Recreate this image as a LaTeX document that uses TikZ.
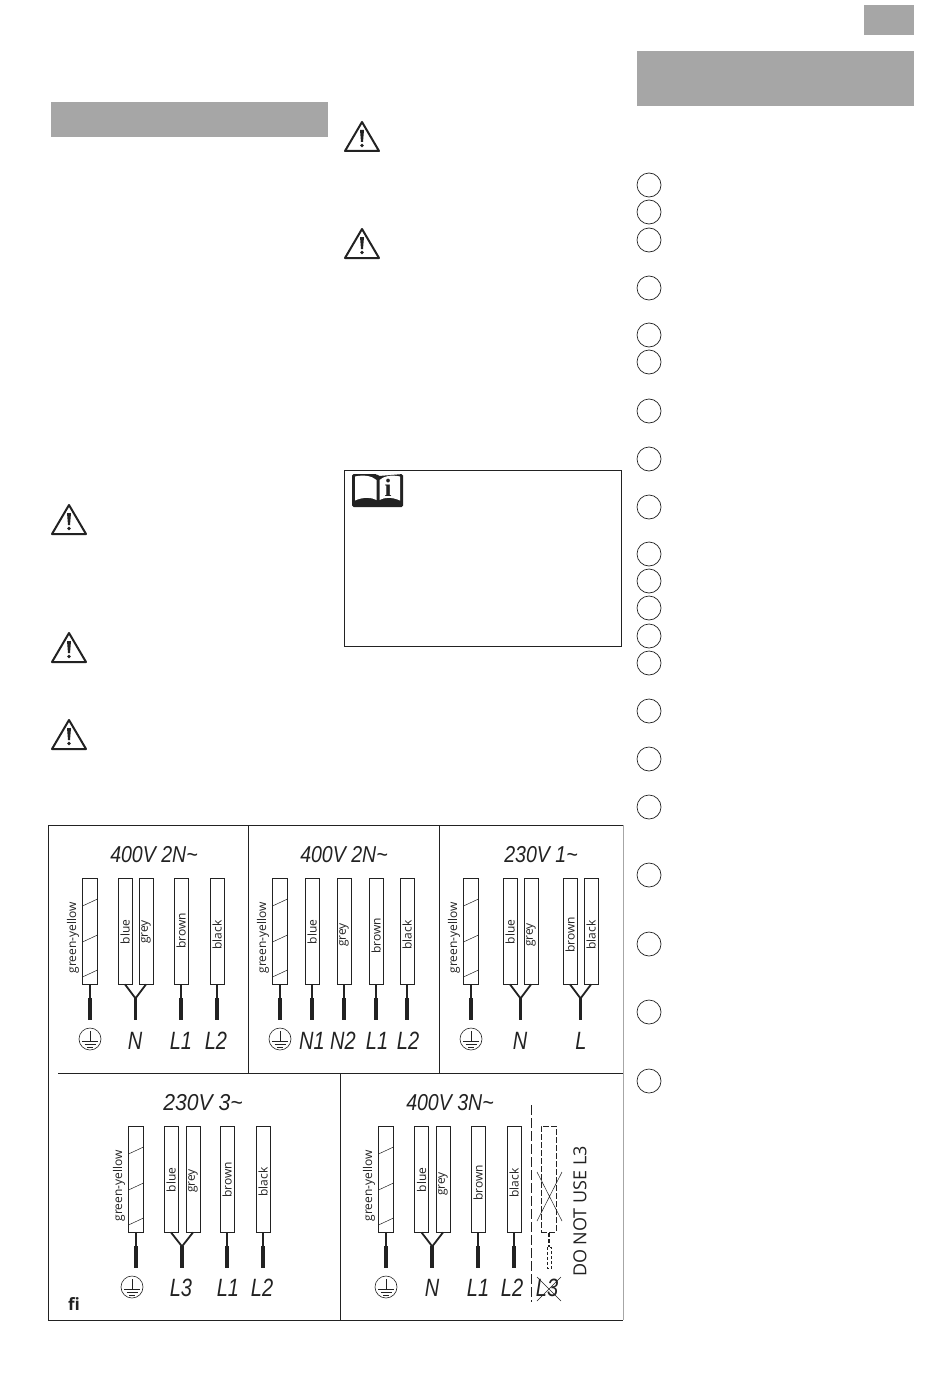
\documentclass[tikz,border=0pt]{standalone}
\usepackage{fontspec}
\setmainfont{Open Sans}
\newfontfamily\arialf{Liberation Sans}
\newfontfamily\serf{Liberation Serif}
\definecolor{ink}{HTML}{222222}
\definecolor{band}{HTML}{A6A6A6}
\tikzset{
  band/.style={fill=band,draw=none},
  frame/.style={draw=ink,line width=.9pt},
  lightframe/.style={draw=black!35,line width=.8pt},
  numring/.style={draw=ink,line width=.7pt,fill=white},
  wirebox/.style={draw=ink,line width=.8pt,rectangle,minimum width=#1,minimum height=106pt,inner sep=0pt},
  wirebox/.default=14pt,
  ghostbox/.style={draw=ink,line width=.8pt,dash pattern=on 6pt off 2pt,rectangle,minimum width=15pt,minimum height=106pt,inner sep=0pt},
  wlabel/.style={rotate=90,font=\fontsize{12}{12}\selectfont,text=ink,inner sep=0pt},
  ttl/.style={font=\arialf\itshape\fontsize{23}{23}\selectfont,xscale=.85,text=ink,inner sep=0pt},
  term/.style={font=\arialf\itshape\fontsize{25}{25}\selectfont,xscale=.8,text=ink,inner sep=0pt},
  thinw/.style={draw=ink,line width=1.5pt},
  thickw/.style={draw=ink,line width=3.6pt},
}
\newcommand{\wirenode}[5]{%
  \node[wirebox] (#1) at (#2,#3+53) {};
  \node[wlabel] (#1-l) at (#2,#3+#5) {#4};
  \path (#1.south) ++(0,14) coordinate (#1-a) ++(0,22) coordinate (#1-b);
}
\newcommand{\single}[1]{%
  \draw[thinw] (#1.south) -- (#1-a);
  \draw[thickw] (#1-a) -- (#1-b);
}
\newcommand{\pairjoin}[3]{%
  \coordinate (#3-m) at ($(#1.south)!.5!(#2.south)+(0,14)$);
  \coordinate (#3-e) at ($(#1.south)!.5!(#2.south)+(0,36)$);
  \draw[draw=ink,line width=1.8pt] (#1.south) -- (#3-m) -- (#2.south);
  \draw[thickw] (#3-m) -- (#3-e);
}
\newcommand{\earthwire}[3]{%
  \node[wirebox=15pt] (#1) at (#2,#3+53) {};
  \node[wlabel,anchor=center] (#1-l) at (#2-17,#3+60) {green-yellow};
  \draw[draw=ink,line width=.5pt] (#2-7.5,#3+28) -- (#2+7.5,#3+21)
        (#2-7.5,#3+64) -- (#2+7.5,#3+57)
        (#2-7.5,#3+99) -- (#2+7.5,#3+92);
  \path (#1.south) ++(0,14) coordinate (#1-a) ++(0,22) coordinate (#1-b);
  \single{#1}
}
\newcommand{\earthmark}[3]{%
  \node[circle,draw=ink,line width=.6pt,minimum size=22pt,inner sep=0pt] (#1) at (#2,#3) {};
  \draw[draw=ink,line width=.6pt] (#2,#3-8) -- (#2,#3+2)
     (#2-8,#3+2) -- (#2+8,#3+2) (#2-5.5,#3+5) -- (#2+5.5,#3+5) (#2-3,#3+8) -- (#2+3,#3+8);
}
\newcommand{\warnmark}[2]{%
  \draw[draw=ink,line width=2pt,line join=round,fill=white] (#1,#2-15) -- (#1+17,#2+14) -- (#1-17,#2+14) -- cycle;
  \fill[ink] (#1-2,#2-7) -- (#1+2,#2-7) -- (#1+1,#2+5) -- (#1-1,#2+5) -- cycle;
  \fill[ink] (#1,#2+8.5) circle (1.9);
}
\usetikzlibrary{calc}
\begin{document}
\begin{tikzpicture}[x=1pt,y=-1pt]
\useasboundingbox (0,0) rectangle (950,1383);
\fill[white] (0,0) rectangle (950,1383);
\path[band] (864,5) rectangle (914,35);
\path[band] (637,51) rectangle (914,106);
\path[band] (51,102) rectangle (328,137);
\foreach \yy in {185,212,240,288,335,362,411,459,507,554,581,608,636,663,711,759,807,875,944,1012,1081}
  \draw[numring] (649,\yy) circle (12);
\warnmark{69}{520}
\warnmark{69}{648}
\warnmark{69}{735}
\warnmark{362}{137}
\warnmark{362}{244}
\draw[frame] (344.5,470.5) rectangle (621,646);
\fill[ink,rounded corners=1.5pt] (352,474) -- (377,474) -- (378,476) -- (379,476) -- (403,474) -- (403,507) -- (352,507) -- cycle;
\fill[white] (355,476.5) .. controls (364,474.5) and (372,476) .. (376.5,480) -- (376.5,500) .. controls (371,497) and (363,497) .. (355,500.5) -- cycle;
\fill[white] (400,476.5) .. controls (391,474.5) and (384,476) .. (379.5,480) -- (379.5,500) .. controls (385,497) and (392,497) .. (400,500.5) -- cycle;
\node[font=\serf\bfseries\fontsize{25}{25}\selectfont,text=ink,inner sep=0pt] (infoi) at (388,488) {i};
\draw[frame] (623,825) -- (48,825) -- (48,1320) -- (623,1320);
\draw[lightframe] (623,825) -- (623,1320);
\draw[frame] (248,825) -- (248,1073);
\draw[frame] (439,825) -- (439,1073);
\draw[frame] (58,1073) -- (623,1073);
\draw[frame] (340,1073) -- (340,1320);
\node[ttl] (t1) at (154,855) {400V 2N\textasciitilde};
\node[ttl] (t2) at (344,855) {400V 2N\textasciitilde};
\node[ttl] (t3) at (541,855) {230V 1\textasciitilde};
\node[ttl,xscale=1.08] (t4) at (203,1103) {230V 3\textasciitilde};
\node[ttl] (t5) at (450,1103) {400V 3N\textasciitilde};
\earthwire{a0}{90}{878}
\wirenode{a1}{125}{878}{blue}{54}
\wirenode{a2}{146}{878}{grey}{54}
\wirenode{a3}{181}{878}{brown}{53}
\wirenode{a4}{217}{878}{black}{57}
\pairjoin{a1}{a2}{an}
\single{a3}
\single{a4}
\earthmark{ae}{90}{1039}
\node[term] (aN) at (135,1041) {N};
\node[term] (aL1) at (181,1041) {L1};
\node[term] (aL2) at (216,1041) {L2};
\earthwire{b0}{280}{878}
\wirenode{b1}{312}{878}{blue}{54}
\wirenode{b2}{344}{878}{grey}{57}
\wirenode{b3}{376}{878}{brown}{58}
\wirenode{b4}{407}{878}{black}{57}
\single{b1}
\single{b2}
\single{b3}
\single{b4}
\earthmark{be}{280}{1039}
\node[term] (bN1) at (312,1041) {N1};
\node[term] (bN2) at (343,1041) {N2};
\node[term] (bL1) at (377,1041) {L1};
\node[term] (bL2) at (408,1041) {L2};
\earthwire{c0}{471}{878}
\wirenode{c1}{510}{878}{blue}{54}
\wirenode{c2}{531}{878}{grey}{57}
\wirenode{c3}{570}{878}{brown}{57}
\wirenode{c4}{591}{878}{black}{57}
\pairjoin{c1}{c2}{cn}
\pairjoin{c3}{c4}{cl}
\earthmark{ce}{471}{1039}
\node[term] (cN) at (520,1041) {N};
\node[term] (cL) at (581,1041) {L};
\earthwire{d0}{136}{1126}
\wirenode{d1}{171}{1126}{blue}{54}
\wirenode{d2}{193}{1126}{grey}{55}
\wirenode{d3}{227}{1126}{brown}{54}
\wirenode{d4}{263}{1126}{black}{56}
\pairjoin{d1}{d2}{dn}
\single{d3}
\single{d4}
\earthmark{de}{132}{1287}
\node[term] (dL3) at (181,1288) {L3};
\node[term] (dL1) at (228,1288) {L1};
\node[term] (dL2) at (262,1288) {L2};
\earthwire{e0}{386}{1126}
\wirenode{e1}{421.5}{1126}{blue}{54}
\wirenode{e2}{443}{1126}{grey}{58}
\wirenode{e3}{478}{1126}{brown}{57}
\wirenode{e4}{514}{1126}{black}{57}
\pairjoin{e1}{e2}{en}
\single{e3}
\single{e4}
\earthmark{ee}{386}{1287}
\node[term] (eN) at (432,1288) {N};
\node[term] (eL1) at (478,1288) {L1};
\node[term] (eL2) at (512,1288) {L2};
\node[term] (eL3) at (547,1288) {L3};
\draw[draw=ink,line width=.8pt,dash pattern=on 10pt off 3pt] (531,1105) -- (531,1302);
\node[ghostbox] (e5) at (548.5,1179) {};
\draw[draw=ink,line width=1.6pt,dash pattern=on 4pt off 2pt] (549,1233) -- (549,1247);
\draw[draw=ink,line width=.8pt,densely dashed] (547,1247) rectangle (551.5,1268);
\draw[draw=ink,line width=.5pt] (537,1172) -- (562,1221) (562,1172) -- (537,1221);
\draw[draw=ink,line width=.5pt] (537,1277) -- (561,1301) (561,1277) -- (537,1301);
\node[rotate=90,font=\fontsize{18}{18}\selectfont,text=ink,inner sep=0pt] (dnu) at (580,1211.5) {DO NOT USE L3};
\node[font=\fontsize{17}{17}\selectfont\bfseries,text=ink,inner sep=0pt] (fi) at (74,1304) {fi};
\end{tikzpicture}
\end{document}
